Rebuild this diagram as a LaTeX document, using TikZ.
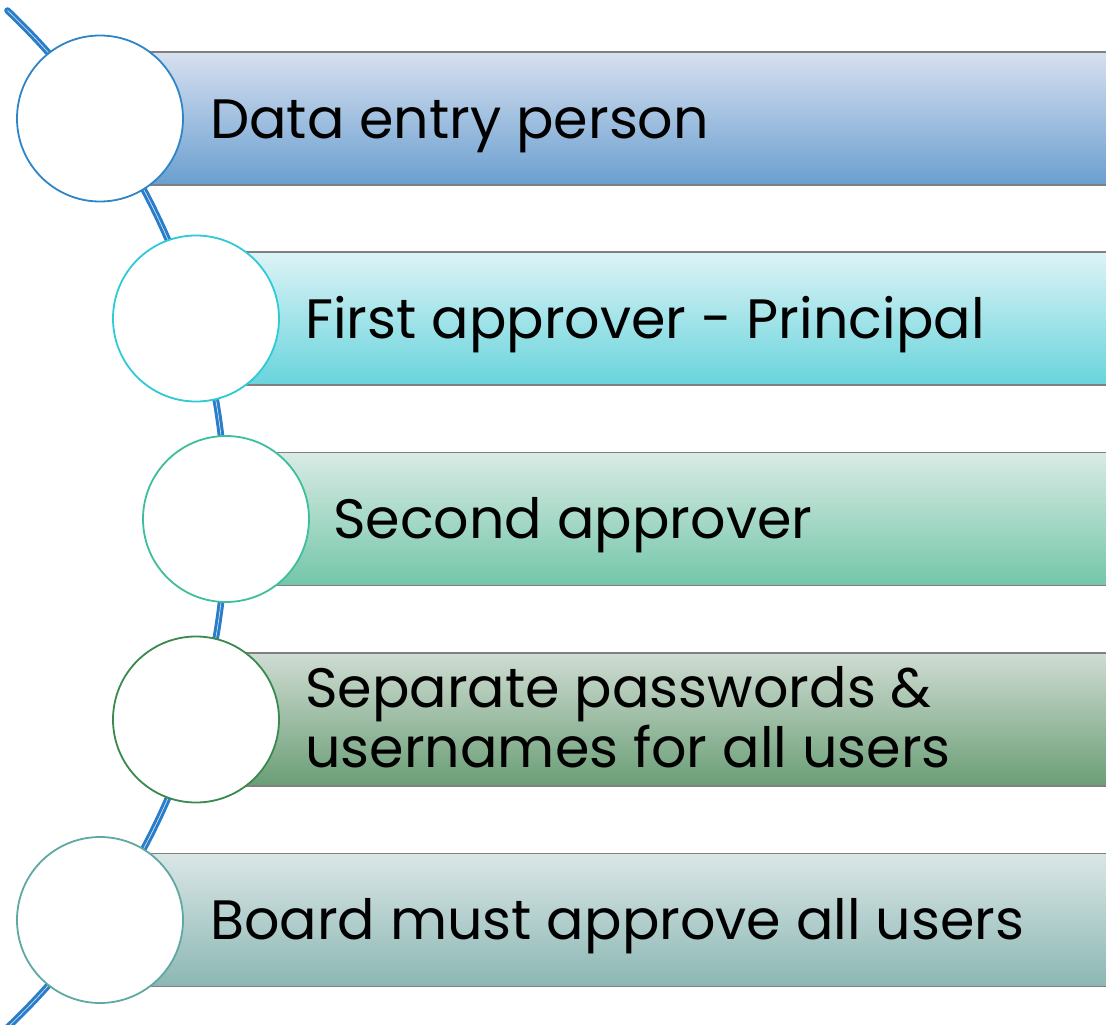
\documentclass[tikz,border=0pt]{standalone}
\usepackage{fontspec}
\setmainfont{Poppins}
\definecolor{arcblue}{HTML}{2A7DC8}
\definecolor{barline}{HTML}{808080}
\definecolor{cA}{HTML}{2E86C8}
\definecolor{cB}{HTML}{2ECAD6}
\definecolor{cC}{HTML}{3DBF9E}
\definecolor{cD}{HTML}{3A8A4E}
\definecolor{cE}{HTML}{5FA9A2}
\definecolor{tA}{HTML}{D7E0EF}\definecolor{mA}{HTML}{B9CDE7}\definecolor{bA}{HTML}{6A9FD0}
\definecolor{tB}{HTML}{DDF3F6}\definecolor{mB}{HTML}{B2E6EC}\definecolor{bB}{HTML}{68D4DC}
\definecolor{tC}{HTML}{D9EBE4}\definecolor{mC}{HTML}{ADDCCA}\definecolor{bC}{HTML}{73C6A9}
\definecolor{tD}{HTML}{CFDCD2}\definecolor{mD}{HTML}{A6C2AA}\definecolor{bD}{HTML}{6A9E76}
\definecolor{tE}{HTML}{DAE6E6}\definecolor{mE}{HTML}{BAD4D2}\definecolor{bE}{HTML}{8BB7B3}
\tikzset{
  barbox/.style n args={3}{rectangle, draw=barline, line width=1.2pt, minimum height=133pt,
     inner sep=0pt, anchor=west, top color=#1, middle color=#2, bottom color=#3},
  ring/.style={circle, draw=#1, line width=1.8pt, fill=white, minimum size=166pt, inner sep=0pt},
  label/.style={anchor=base west, inner sep=0pt, font=\fontsize{55.5}{60}\selectfont, align=left, text=black},
  spine/.style={draw=arcblue, double=white!85!arcblue, line width=3pt, double distance=0.6pt, line cap=round}
}
\begin{document}
\begin{tikzpicture}[x=1pt,y=-1pt]
\useasboundingbox (0,0) rectangle (1106,1025);
% spine arc
\draw[spine] (-475,519) ++(-46.5:701) arc[start angle=-46.5, end angle=46.5, radius=701];
% bars
\node[barbox={tA}{mA}{bA}, minimum width=1010pt] (b1) at (100,118.5) {};
\node[barbox={tB}{mB}{bB}, minimum width=914pt] (b2) at (196,318.5) {};
\node[barbox={tC}{mC}{bC}, minimum width=884pt] (b3) at (226,519) {};
\node[barbox={tD}{mD}{bD}, minimum width=914pt] (b4) at (196,719.5) {};
\node[barbox={tE}{mE}{bE}, minimum width=1010pt] (b5) at (100,920) {};
% circles
\node[ring=cA] (c1) at (100,118.5) {};
\node[ring=cB] (c2) at (196,318.5) {};
\node[ring=cC] (c3) at (226,519) {};
\node[ring=cD] (c4) at (196,719.5) {};
\node[ring=cE] (c5) at (100,920) {};
% labels
\node[label] (l1) at (210,138) {Data entry person};
\node[label] (l2) at (305,338) {First approver - Principal};
\node[label] (l3) at (333,538.5) {Second approver};
\node[label] (l4a) at (305,707) {Separate passwords \&};
\node[label] (l4b) at (305,767) {usernames for all users};
\node[label] (l5) at (210,939.5) {Board must approve all users};
\end{tikzpicture}
\end{document}
